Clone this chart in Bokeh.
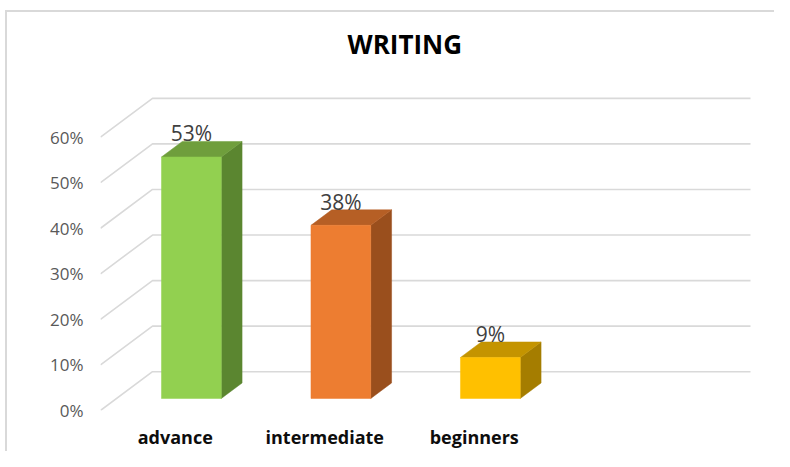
from bokeh.plotting import figure
from bokeh.models import Range1d, FixedTicker, ColumnDataSource
from bokeh.embed import file_html
from bokeh.resources import INLINE
from bokeh.core.properties import value

# ---- data ----
categories = ["advance", "intermediate", "beginners"]
values = [53, 38, 9]
label_texts = ["53%", "38%", "9%"]
tick_values = [0, 10, 20, 30, 40, 50, 60]
tick_labels = ["0%", "10%", "20%", "30%", "40%", "50%", "60%"]
front_colors = ["#92d050", "#ed7d31", "#ffc000"]
top_colors = ["#6f9e3c", "#b65f25", "#c49400"]
side_colors = ["#5b8630", "#9a4f1d", "#a57d00"]

# ---- layout constants ----
W, H = 774, 451
PX_X = 149.5   # px per category unit
PX_Y = 4.583   # px per percent
ML, MR, MT, MB = 100, 22, 66, 39
fw = W - ML - MR
fh = H - MT - MB
x0 = -0.5
x1 = x0 + fw / PX_X
y1 = fh / PX_Y

DX = 52 / PX_X      # depth offset (x units)
DY = 39 / PX_Y      # depth offset (y units)
ZF, ZB = 0.31, 0.71  # bar front / back depth
BW = 0.4            # bar width
back_right = x0 + 650 / PX_X

p = figure(width=W, height=H, x_range=Range1d(x0, x1), y_range=Range1d(0, y1),
           output_backend="svg", toolbar_location=None,
           min_border_left=ML, min_border_right=MR, min_border_top=MT, min_border_bottom=MB)
p.styles = {"background": "linear-gradient(#d9d9d9,#d9d9d9) 5px 10px / 2px calc(100% - 10px) no-repeat, "
                          "linear-gradient(#d9d9d9,#d9d9d9) 5px 10px / calc(100% - 5px) 2px no-repeat, white"}
p.outline_line_color = None
p.xgrid.visible = False
p.ygrid.visible = False
p.background_fill_color = None
p.border_fill_color = None

# ---- 3D gridlines (left wall + back wall) ----
gx, gy = [], []
for v in tick_values:
    gx.append([x0, x0 + DX, back_right])
    gy.append([v, v + DY, v + DY])
p.multi_line(xs=gx, ys=gy, line_color="#d9d9d9", line_width=1.6)

# ---- bars ----
fx, fy, sx, sy, tx, ty = [], [], [], [], [], []
d = ZB - ZF
for i, v in enumerate(values):
    fl = i - BW / 2 + ZF * DX
    fr = fl + BW
    b0 = ZF * DY
    fx.append([fl, fr, fr, fl]); fy.append([b0, b0, v + b0, v + b0])
    sx.append([fr, fr + d * DX, fr + d * DX, fr])
    sy.append([b0, ZB * DY, v + ZB * DY, v + b0])
    tx.append([fl, fr, fr + d * DX, fl + d * DX])
    ty.append([v + b0, v + b0, v + ZB * DY, v + ZB * DY])

p.patches(xs=sx, ys=sy, fill_color=side_colors, line_color=side_colors, line_width=0.5)
p.patches(xs=tx, ys=ty, fill_color=top_colors, line_color=top_colors, line_width=0.5)
p.patches(xs=fx, ys=fy, fill_color=front_colors, line_color=front_colors, line_width=0.5)

# ---- data labels ----
src = ColumnDataSource(dict(
    x=[i + ZF * DX for i in range(len(values))],
    y=[v + ZB * DY for v in values],
    t=label_texts))
p.text(x="x", y="y", text="t", source=src, text_align="center", text_baseline="alphabetic",
       text_font=value("Open Sans"), text_font_size="21px", text_color="#404040", y_offset=-8)

# ---- axes ----
p.xaxis.ticker = FixedTicker(ticks=list(range(len(categories))))
p.xaxis.major_label_overrides = {i: c for i, c in enumerate(categories)}
p.xaxis.axis_line_color = None
p.xaxis.major_tick_line_color = None
p.xaxis.minor_tick_line_color = None
p.xaxis.major_tick_out = 0
p.xaxis.major_label_standoff = 14
p.xaxis.major_label_text_font = "Open Sans"
p.xaxis.major_label_text_font_size = "18px"
p.xaxis.major_label_text_font_style = "bold"
p.xaxis.major_label_text_color = "#0d0d0d"

p.yaxis.ticker = FixedTicker(ticks=tick_values)
p.yaxis.major_label_overrides = {v: t for v, t in zip(tick_values, tick_labels)}
p.yaxis.axis_line_color = None
p.yaxis.major_tick_line_color = None
p.yaxis.minor_tick_line_color = None
p.yaxis.major_tick_out = 0
p.yaxis.major_label_standoff = 17
p.yaxis.major_label_text_font = "Open Sans"
p.yaxis.major_label_text_font_size = "17px"
p.yaxis.major_label_text_color = "#595959"

# ---- title ----
p.title.text = "WRITING"
p.title.text_font = "Open Sans"
p.title.text_font_size = "26px"
p.title.text_font_style = "bold"
p.title.text_color = "#000000"
p.title.align = "left"
p.title.offset = 247

open("out.html", "w").write(file_html(p, INLINE))
